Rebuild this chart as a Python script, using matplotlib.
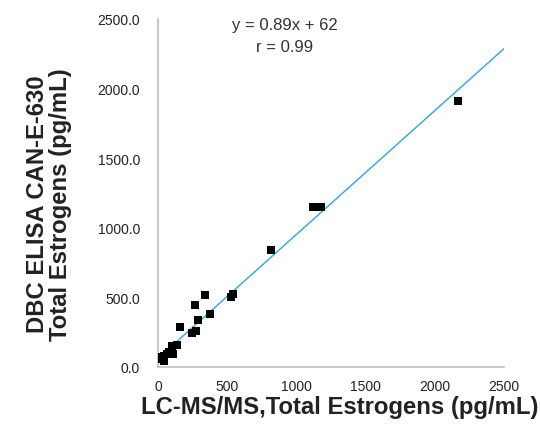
import matplotlib
matplotlib.use("Agg")
import matplotlib.pyplot as plt
import numpy as np

plt.rcParams['font.family'] = ['Liberation Sans', 'DejaVu Sans']

lcms = [2170, 1120, 1180, 817, 539, 527, 338, 268, 377, 292, 157, 273, 244,
        140, 104, 99, 67, 43, 31, 43, 20, 80, 110]
elisa = [1912, 1148, 1148, 840, 522, 505, 519, 445, 379, 335, 285, 261, 242,
         160, 153, 101, 93, 81, 57, 45, 75, 110, 95]
slope = 0.89
intercept = 62
fit_x = [20, 2500]
eq_text = "y = 0.89x + 62"
r_text = "r = 0.99"
xticks = [0, 500, 1000, 1500, 2000, 2500]
yticks = [0, 500, 1000, 1500, 2000, 2500]

fig = plt.figure(figsize=(5.40, 4.31), dpi=100)
ax = fig.add_axes([0.2926, 0.1462, 0.6407, 0.8074])

fx = np.array(fit_x, dtype=float)
ax.plot(fx, slope * fx + intercept, color='#2AA7DF', lw=1.0, zorder=2)
ax.scatter(lcms, elisa, marker='s', s=26, color='black', zorder=3, linewidths=0)

ax.set_xlim(0, 2500)
ax.set_ylim(0, 2500)
ax.set_xticks(xticks)
ax.set_xticklabels([str(v) for v in xticks])
ax.set_yticks(yticks)
ax.set_yticklabels([f"{v:.1f}" for v in yticks])
ax.tick_params(axis='y', length=0, labelsize=10, colors='#222222', pad=13)
ax.tick_params(axis='x', length=0, labelsize=10, colors='#222222', pad=9)
for s in ['top', 'right']:
    ax.spines[s].set_visible(False)
for s in ['left', 'bottom']:
    ax.spines[s].set_color('#BFBFBF')
    ax.spines[s].set_linewidth(1.2)

ax.set_xlabel("LC-MS/MS,Total Estrogens (pg/mL)", fontsize=17.2, fontweight='bold',
              color='#222222')
ax.xaxis.label.set_va('center')
ax.xaxis.set_label_coords(0.526, -0.113)
ax.set_ylabel("DBC ELISA CAN-E-630\nTotal Estrogens (pg/mL)", fontsize=17.2,
              fontweight='bold', color='#222222', linespacing=1.05)
ax.yaxis.label.set_va('center')
ax.yaxis.set_label_coords(-0.315, 0.47)

ax.text(0.367, 0.985, eq_text, transform=ax.transAxes, ha='center', va='center',
        fontsize=12, color='#333333')
ax.text(0.367, 0.922, r_text, transform=ax.transAxes, ha='center', va='center',
        fontsize=12, color='#333333')

fig.savefig("out.png", dpi=100)
